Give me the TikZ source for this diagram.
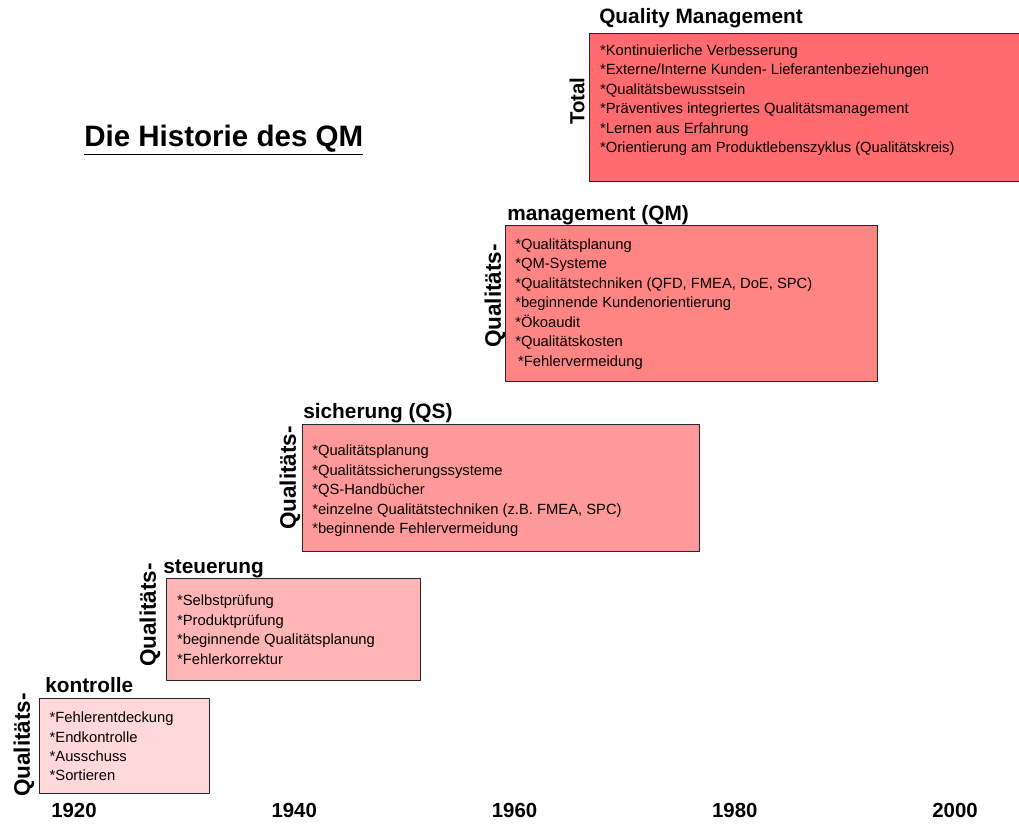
\documentclass[tikz,border=0pt]{standalone}
\usepackage{fontspec}
\setmainfont{Liberation Sans}
\usetikzlibrary{positioning}

\definecolor{qkontrolle}{HTML}{FFD9D9}
\definecolor{qsteuerung}{HTML}{FFB5B5}
\definecolor{qsicherung}{HTML}{FF9999}
\definecolor{qmanagement}{HTML}{FF8585}
\definecolor{qtotal}{HTML}{FF6B6E}

\begin{document}
\begin{tikzpicture}[x=0.025cm, y=-0.025cm, line join=round, line cap=round]

		\tikzset{phase/.style={draw=black!85, line width=0.7pt, anchor=north west, inner sep=0pt},
			items/.style={align=left, inner sep=0pt, font=\fontsize{10.5}{13.8}\selectfont},
			head/.style={anchor=base west, inner sep=0pt, font=\fontsize{14.8}{17}\selectfont\bfseries},
			sidelabel/.style={rotate=90, inner sep=0pt, font=\fontsize{#1}{17}\selectfont\bfseries},
			year/.style={inner sep=0pt, font=\fontsize{14.5}{17}\selectfont\bfseries}}

		\useasboundingbox (0,0) rectangle (1019,829);

		\node[anchor=base west, inner sep=0pt, font=\fontsize{21}{25}\selectfont\bfseries] (title) at (84,146) {\underline{Die Historie des QM}};

		% Phasen
		\node[phase, fill=qkontrolle, minimum width=4.25cm, minimum height=2.375cm] (kontrolle) at (39,698) {};
		\node[phase, fill=qsteuerung, minimum width=6.35cm, minimum height=2.55cm] (steuerung) at (166,578) {};
		\node[phase, fill=qsicherung, minimum width=9.925cm, minimum height=3.175cm] (sicherung) at (302,424) {};
		\node[phase, fill=qmanagement, minimum width=9.3cm, minimum height=3.9cm] (management) at (505,225) {};
		\node[phase, fill=qtotal, minimum width=13cm, minimum height=3.7cm] (total) at (589,33) {};

		\node[items, below right=0.34cm and 0.26cm of kontrolle.north west] (kontrolle-items) {*Fehlerentdeckung\\*Endkontrolle\\*Ausschuss\\*Sortieren};
		\node[items, below right=0.42cm and 0.27cm of steuerung.north west] (steuerung-items) {*Selbstprüfung\\*Produktprüfung\\*beginnende Qualitätsplanung\\*Fehlerkorrektur};
		\node[items, below right=0.52cm and 0.25cm of sicherung.north west] (sicherung-items) {*Qualitätsplanung\\*Qualitätssicherungssysteme\\*QS-Handbücher\\*einzelne Qualitätstechniken (z.B. FMEA, SPC)\\*beginnende Fehlervermeidung};
		\node[items, below right=0.34cm and 0.25cm of management.north west] (management-items) {*Qualitätsplanung\\*QM-Systeme\\*Qualitätstechniken (QFD, FMEA, DoE, SPC)\\*beginnende Kundenorientierung\\*Ökoaudit\\*Qualitätskosten\\\hspace{2pt}*Fehlervermeidung};
		\node[items, below right=0.29cm and 0.27cm of total.north west] (total-items) {*Kontinuierliche Verbesserung\\*Externe/Interne Kunden- Lieferantenbeziehungen\\*Qualitätsbewusstsein\\*Präventives integriertes Qualitätsmanagement\\*Lernen aus Erfahrung\\*Orientierung am Produktlebenszyklus (Qualitätskreis)};

		% Beschriftungen
		\node[head] (kontrolle-head) at (45,692) {kontrolle};
		\node[head] (steuerung-head) at (163,573) {steuerung};
		\node[head] (sicherung-head) at (303,418) {sicherung (QS)};
		\node[head] (management-head) at (507,220) {management (QM)};
		\node[head] (total-head) at (599,23) {Quality Management};

		\node[sidelabel=16] (kontrolle-side) at (24,745) {Qualitäts-};
		\node[sidelabel=16] (steuerung-side) at (150,615) {Qualitäts-};
		\node[sidelabel=16] (sicherung-side) at (290,478) {Qualitäts-};
		\node[sidelabel=16] (management-side) at (495,296) {Qualitäts-};
		\node[sidelabel=14.5] (total-side) at (577,101) {Total};

		% Zeitachse
		\foreach \yr [count=\i from 0] in {1920,1940,1960,1980,2000}
		\node[year] (y\yr) at (74+220.25*\i,810) {\yr};
	\end{tikzpicture}
\end{document}
